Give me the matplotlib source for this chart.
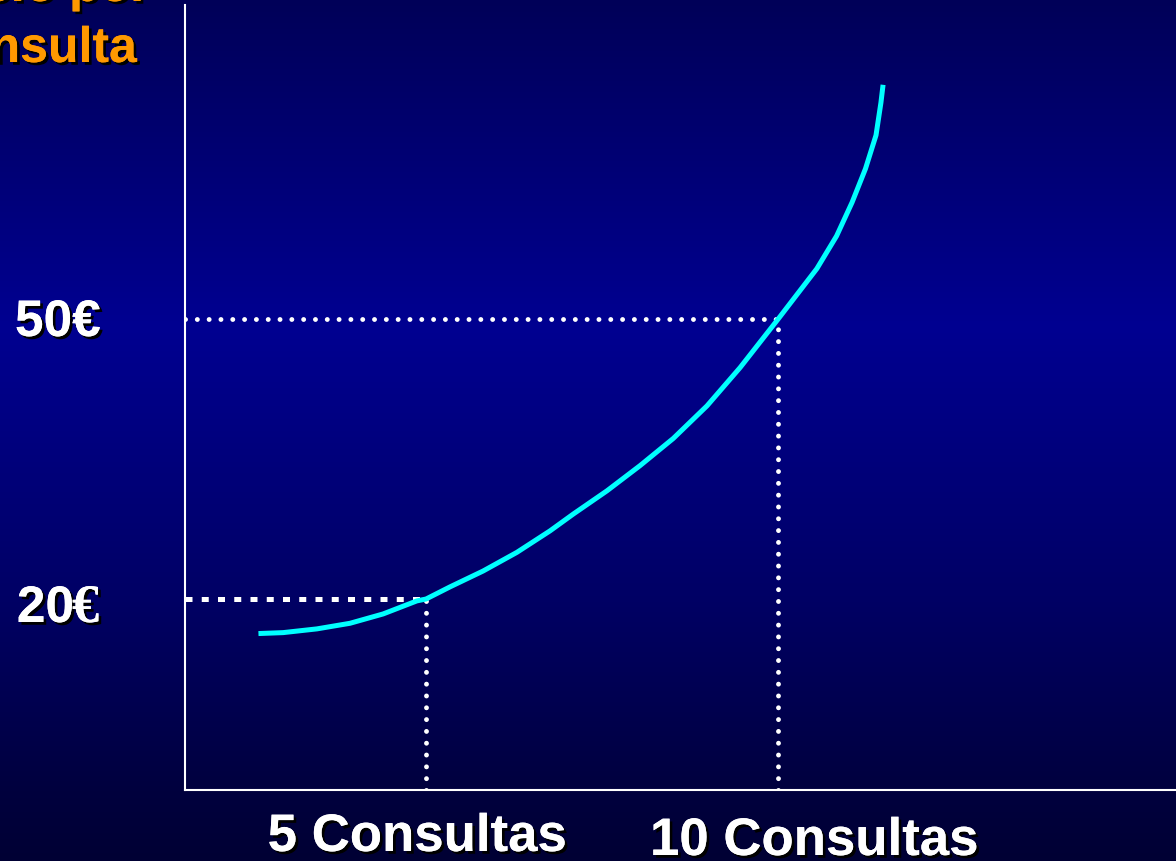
import numpy as np
import matplotlib
matplotlib.use("Agg")
import matplotlib.pyplot as plt
import matplotlib.patheffects as pe

# Data
consultas = [2.62, 2.97, 3.45, 3.92, 4.39, 4.87, 5.00, 5.34, 5.81, 6.29,
             6.76, 7.09, 7.57, 8.04, 8.51, 8.99, 9.46, 10.00,
             10.55, 10.83, 11.05, 11.24, 11.39, 11.46, 11.49]
precio = [16.3, 16.4, 16.8, 17.4, 18.4, 19.8, 20.0, 21.3, 23.0, 25.0,
          27.3, 29.1, 31.6, 34.3, 37.2, 40.7, 44.8, 50.0,
          55.4, 58.9, 62.5, 66.1, 69.7, 73.2, 75.1]
mark_x = [5, 10]
mark_y = [20, 50]
y_labels = ['20', '50']
x_labels = ['5 Consultas', '10 Consultas']
title_text = 'Precio por\nconsulta'

W, H = 1176, 862
fig = plt.figure(figsize=(W / 100, H / 100), dpi=100)

# background gradient
bg = fig.add_axes([0, 0, 1, 1])
rows = np.linspace(0, 1, 400)
blue = np.interp(rows, [0, 0.38, 0.7, 0.92, 1.0], [88, 145, 100, 62, 52]) / 255
grad = np.zeros((400, 1, 3))
grad[:, 0, 2] = blue
bg.imshow(grad, aspect='auto', extent=[0, 1, 1, 0])
bg.set_axis_off()

def fx(px):
    return px / W

def fy(py):
    return 1 - py / H

# main axes placed by pixel bounds
left, right, top, bottom = 185, 1176, 6, 790.5
ax = fig.add_axes([fx(left), fy(bottom), fx(right) - fx(left), fy(top) - fy(bottom)])
ax.set_facecolor('none')
ax.set_xlim(1.577, 15.65)
ax.set_ylim(-0.41, 83.65)
for s in ['top', 'right']:
    ax.spines[s].set_visible(False)
for s in ['left', 'bottom']:
    ax.spines[s].set_color('white')
    ax.spines[s].set_linewidth(1.5)
ax.set_xticks([])
ax.set_yticks([])

xmin, xmax = ax.get_xlim()
ymin, ymax = ax.get_ylim()

# guide lines
dots = dict(color='white', lw=3.5, dashes=(0.01, 2.42), dash_capstyle='round', zorder=2)
ax.plot([xmin, mark_x[0]], [mark_y[0], mark_y[0]], color='white', lw=3.6,
        dashes=(1.4, 1.85), dash_capstyle='butt', zorder=2)
ax.plot([mark_x[0], mark_x[0]], [ymin, mark_y[0]], **dots)
ax.plot([xmin, mark_x[1]], [mark_y[1], mark_y[1]], **dots)
ax.plot([mark_x[1], mark_x[1]], [ymin, mark_y[1]], **dots)

# curve
ax.plot(consultas, precio, color='#00FFFF', lw=3.6, solid_capstyle='butt',
        solid_joinstyle='round', zorder=3)

shadow = [pe.withSimplePatchShadow(offset=(2, -2), shadow_rgbFace='black', alpha=1.0), pe.Normal()]
sans = 'Liberation Sans'

# y labels
fig.text(fx(15), fy(337), y_labels[1] + '€', ha='left', va='baseline',
         fontsize=37, fontweight='bold', color='white', family=sans, path_effects=shadow)
fig.text(fx(74), fy(623), y_labels[0], ha='right', va='baseline',
         fontsize=37, fontweight='bold', color='white', family=sans, path_effects=shadow)
fig.text(fx(72), fy(623), '€', ha='left', va='baseline',
         fontsize=39, fontweight='bold', color='white', family='Liberation Serif',
         path_effects=shadow)

# x labels
fig.text(fx(417), fy(852), x_labels[0], ha='center', va='baseline', fontsize=38,
         fontweight='bold', color='white', family=sans, path_effects=shadow)
fig.text(fx(814), fy(856), x_labels[1], ha='center', va='baseline', fontsize=38,
         fontweight='bold', color='white', family=sans, path_effects=shadow)

# axis title (cut off at the top left)
t1, t2 = title_text.split('\n')
fig.text(fx(150), fy(2), t1, ha='right', va='baseline', fontsize=36,
         fontweight='bold', color='#FF9900', family=sans, path_effects=shadow)
fig.text(fx(137), fy(63), t2, ha='right', va='baseline', fontsize=36,
         fontweight='bold', color='#FF9900', family=sans, path_effects=shadow)

fig.savefig('out.png', dpi=100)
